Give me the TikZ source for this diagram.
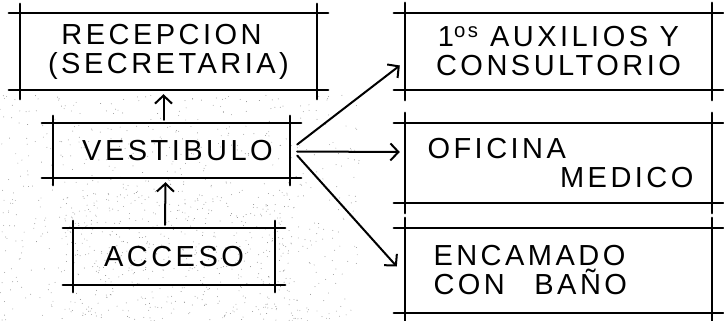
\documentclass[tikz,border=0pt]{standalone}
\usepackage{fontspec}
\setmainfont{Liberation Sans}[LetterSpace=12]
\usetikzlibrary{arrows.meta,calc}

\tikzset{
  room/.style={draw=none, inner sep=0pt, align=center,
    font=\fontsize{29}{29}\selectfont},
  frame/.style={line width=2.3pt, line cap=round, black},
  flow/.style={line width=2pt, line cap=round,
    -{Straight Barb[length=8pt,width=17pt,line width=2pt]}},
  grain/.style={fill=black!45},
}

% overshooting architect-style frame around a node
\newcommand{\frameit}[3]{%
  \draw[frame] ($(#1.north west)+(-#2,0)$) -- ($(#1.north east)+(#2,0)$);
  \draw[frame] ($(#1.south west)+(-#2,0)$) -- ($(#1.south east)+(#2,0)$);
  \draw[frame] ($(#1.north west)+(0,-#3)$) -- ($(#1.south west)+(0,#3)$);
  \draw[frame] ($(#1.north east)+(0,-#3)$) -- ($(#1.south east)+(0,#3)$);
}

\begin{document}
\begin{tikzpicture}[x=1pt,y=-1pt]
  \fill[white] (0,0) rectangle (724,321);
  \useasboundingbox (0,0) rectangle (724,321);

  % pencil grain on the lower left of the sheet
  \pgfmathsetseed{11}
  \foreach \i in {1,...,700}{
    \pgfmathsetmacro\gx{rnd*360}
    \pgfmathsetmacro\gy{95+rnd*226}
    \fill[grain] (\gx,\gy) circle (0.45pt);
  }
  \foreach \i in {1,...,350}{
    \pgfmathsetmacro\gx{60+rnd*240}
    \pgfmathsetmacro\gy{190+rnd*131}
    \fill[grain] (\gx,\gy) circle (0.45pt);
  }

  % left column
  \node[room, minimum width=297pt, minimum height=77pt] (rec) at (168.5,51.5)
    {\hspace*{-14pt}RECEPCION\\(SECRETARIA)};
  \node[room, minimum width=237pt, minimum height=55pt] (vest) at (171.5,150.5)
    {\hspace*{12pt}VESTIBULO};
  \node[room, minimum width=202pt, minimum height=57pt] (acc) at (174,256.5)
    {ACCESO};

  % right column
  \node[room, minimum width=307pt, minimum height=77pt] (aux) at (558.5,51.5)
    {1\textsuperscript{os} AUXILIOS Y\\CONSULTORIO};
  \node[room, minimum width=307pt, minimum height=80pt, text width=270pt,
        align=flush left] (ofi) at (558.5,163)
    {\hspace*{4pt}OFICINA\\\hspace*{\fill}MEDICO};
  \node[room, minimum width=307pt, minimum height=85pt, text width=250pt,
        align=flush left] (enc) at (558.5,270.5)
    {ENCAMADO\\CON\hspace{18pt} BAÑO};

  \frameit{rec}{11}{9}
  \frameit{vest}{11}{7}
  \frameit{acc}{10}{7}
  \frameit{aux}{11}{10}
  \frameit{ofi}{11}{10}
  \frameit{enc}{11}{10}

  % circulation
  \draw[flow] ($(vest.north)+(-8,-3)$) -- ($(rec.south)+(-5,4)$);
  \draw[flow] ($(acc.north)+(-9,-3)$) -- ($(vest.south)+(-6,4)$);
  \draw[flow] ($(vest.east)+(7,-6)$) -- ($(aux.west)+(-5,14)$);
  \draw[flow] ($(vest.east)+(7,1)$) -- ($(ofi.west)+(-5,-11)$);
  \draw[flow] ($(vest.east)+(7,5)$) -- ($(enc.west)+(-8,-4)$);
\end{tikzpicture}
\end{document}
